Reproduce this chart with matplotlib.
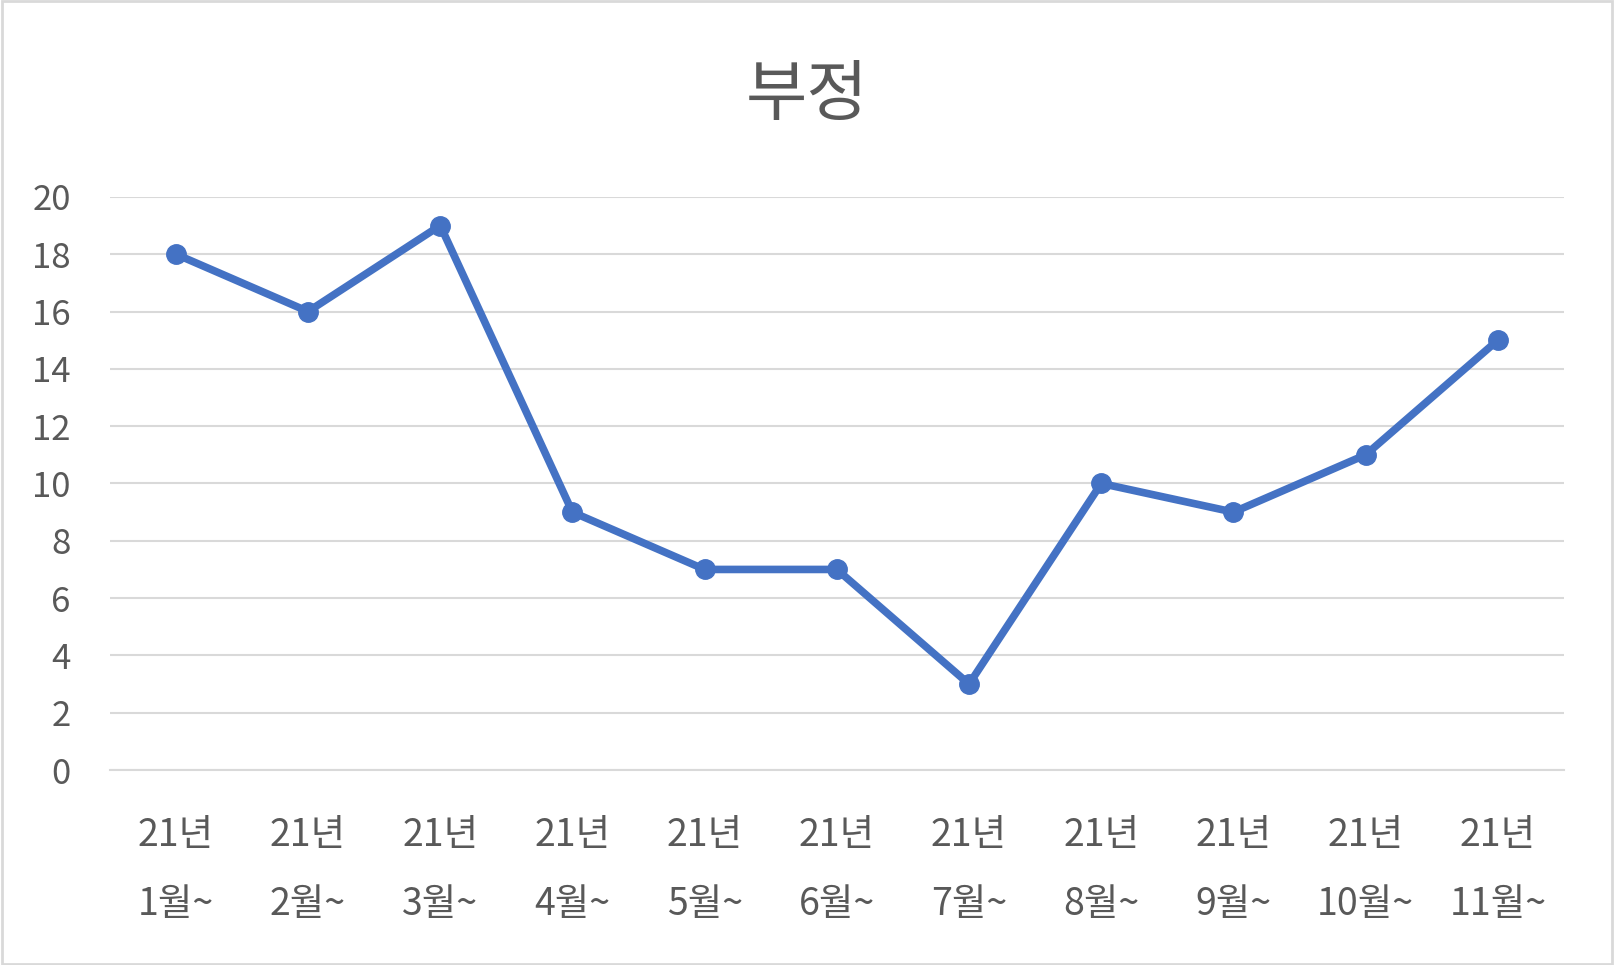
import matplotlib.pyplot as plt
from matplotlib.patches import Rectangle

plt.rcParams['font.family'] = ['Noto Sans CJK KR', 'DejaVu Sans']

months = ['1월~', '2월~', '3월~', '4월~', '5월~', '6월~', '7월~', '8월~', '9월~', '10월~', '11월~']
year_label = '21년'
values = [18, 16, 19, 9, 7, 7, 3, 10, 9, 11, 15]
title = '부정'

text_color = '#595959'
line_color = '#4472C4'

fig = plt.figure(figsize=(16.14, 9.65), dpi=100)
ax = fig.add_axes([0.068, 0.202, 0.901, 0.594])

x = list(range(len(values)))
ax.plot(x, values, color=line_color, linewidth=5.5, marker='o', markersize=14,
        solid_capstyle='round', zorder=3)

ax.set_xlim(-0.5, len(values) - 0.5)
ax.set_ylim(0, 20)
ax.set_yticks(range(0, 21, 2))
ax.yaxis.grid(True, color='#d9d9d9', linewidth=1.5)
ax.set_axisbelow(True)
for s in ax.spines.values():
    s.set_visible(False)
ax.spines['bottom'].set_visible(True)
ax.spines['bottom'].set_color('#d9d9d9')
ax.spines['bottom'].set_linewidth(1.5)

ax.set_xticks(x)
ax.set_xticklabels([year_label + '\n' + m for m in months], linespacing=2.0)
ax.tick_params(axis='both', length=0, colors=text_color)
ax.tick_params(axis='x', labelsize=27, pad=33)
ax.tick_params(axis='y', labelsize=25, pad=28)

fig.text(0.5, 0.9, title, ha='center', va='center', fontsize=48, color=text_color)

fig.patches.append(Rectangle((0.001, 0.001), 0.998, 0.998, transform=fig.transFigure,
                             fill=False, edgecolor='#d9d9d9', linewidth=2))

fig.savefig('out.png', dpi=100, facecolor='white')
